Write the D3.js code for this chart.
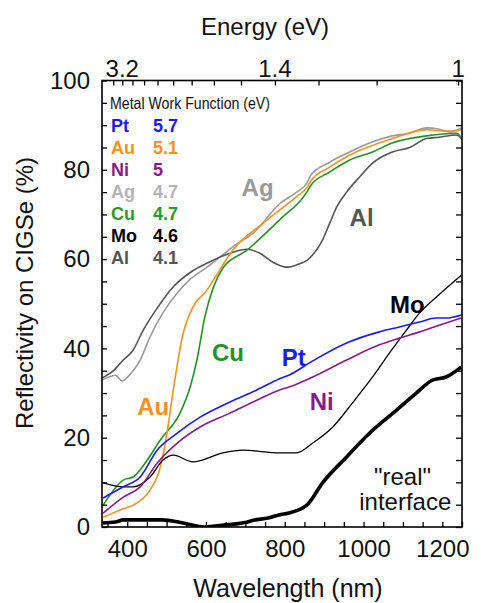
<!DOCTYPE html>
<html>
<head>
<meta charset="utf-8">
<script src="https://cdn.jsdelivr.net/npm/d3@7"></script>
<style>
  html, body { margin: 0; padding: 0; background: #fff; }
  svg { display: block; font-family: "Liberation Sans", Arial, Helvetica, sans-serif; }
</style>
</head>
<body>
<svg id="chart" width="484" height="603"></svg>
<script>
// Reflectivity spectra (wavelength in nm, reflectivity in %)
const pt = [[339,6.5],[390,9],[433,11.2],[476,17.2],[527,21],[585,24.6],[661,28],[729,30.7],[787,33.2],[813,34.1],[871,37.2],[957,41.2],[1040,43.7],[1091,44.8],[1142,45.9],[1185,46.8],[1210,46.8],[1248,47.5]];
const au = [[339,2.2],[382,3.8],[425,5.4],[458,8.3],[484,13.4],[501,21],[517,30.7],[542,43.4],[567,49.3],[602,53],[635,57.6],[668,62],[744,68],[830,74],[856,76],[866,77.5],[914,80.6],[965,83.3],[1073,87],[1160,89],[1192,88.7],[1235,88.7],[1250,89.1]];
const ni = [[339,3.1],[390,6.7],[433,9],[476,14.3],[527,18.8],[585,22.4],[661,25.5],[729,28.4],[787,30.7],[813,31.4],[871,33.6],[957,37.4],[1040,40.8],[1091,42.3],[1142,43.7],[1192,45.2],[1248,46.8]];
const ag = [[337,33],[350,33.5],[370,34],[387,32.7],[400,33.5],[415,35],[433,37.4],[458,42.6],[491,48],[527,52.4],[560,55.5],[603,58.2],[643,61],[680,63.5],[720,65.8],[787,72.4],[830,75],[856,77],[866,78.8],[914,81.7],[965,84],[1015,86],[1073,87.6],[1117,88.2],[1160,89.4],[1192,89.1],[1218,88.5],[1250,89.4]];
const cu = [[339,4.9],[390,10.5],[415,11.2],[451,15],[484,19.5],[534,25.5],[560,31.4],[577,37.4],[597,47],[618,53.5],[643,58],[704,62],[787,68.8],[856,75],[866,76.5],[914,79.5],[965,82.2],[1023,84],[1073,86],[1160,87.6],[1235,88.2],[1243,87.8],[1250,86.7]];
const mo = [[339,9.9],[390,9],[415,9],[458,11.2],[491,15],[517,16.1],[567,14.6],[643,16.6],[694,17.2],[787,16.6],[830,16.6],[871,18.8],[922,22.4],[972,27.8],[1023,33.6],[1066,39],[1109,44.1],[1142,47.9],[1185,51.5],[1248,56.4]];
const al = [[337,33.4],[365,35],[390,37.4],[415,39.6],[440,44],[476,49],[517,53.8],[560,57],[610,59.4],[661,61.3],[704,62.2],[737,61.3],[770,59.3],[805,58.2],[830,58.7],[863,60.2],[896,64.3],[914,68],[932,71.7],[957,75],[990,78.4],[1023,81.5],[1073,84],[1117,85],[1160,87],[1192,87.3],[1235,87.8],[1250,87]];
const realInterface = [[337,0.9],[370,1.1],[390,1.6],[446,1.6],[489,1.6],[542,0.9],[597,0],[641,0.4],[699,1.0],[720,1.5],[757,2.0],[790,2.8],[808,3.1],[856,4.9],[896,9.9],[957,15.7],[1015,21],[1084,26.2],[1134,30],[1175,32.9],[1210,33.6],[1248,35.8]];

// Legend: metal and its work function (eV)
const metals = ["Pt", "Au", "Ni", "Ag", "Cu", "Mo", "Al"];
const workFunctions = ["5.7", "5.1", "5", "4.7", "4.7", "4.6", "4.1"];

// Axis ticks
const wavelengthTicks = d3.range(350, 1251, 50);
const wavelengthLabels = [400, 600, 800, 1000, 1200];
const reflectivityTicks = d3.range(0, 101, 5);
const reflectivityLabels = [0, 20, 40, 60, 80, 100];
const energyTicks = [3.4, 3.2, 3.0, 2.8, 2.6, 2.4, 2.2, 2.0, 1.8, 1.6, 1.4, 1.2, 1.0];
const energyLabelText = ["3.2", "1.4", "1"];
const energyLabelAt = [3.2, 1.6, 1.0];

const colors = {
  Pt: "#1a1aff", Au: "#f7921e", Ni: "#8a1a8a", Ag: "#9a9a9a",
  Cu: "#259225", Mo: "#000000", Al: "#555555"
};
const legendColors = {
  Pt: "#1a1aff", Au: "#f7921e", Ni: "#8a1a8a", Ag: "#b4b4b4",
  Cu: "#2a9a2a", Mo: "#000000", Al: "#555555"
};

const svg = d3.select("#chart");
const L = 102, R = 462, T = 80.5, B = 527;

const x = d3.scaleLinear().domain([336, 1250]).range([L, R]);
const y = d3.scaleLinear().domain([0, 100]).range([B, T]);

svg.append("defs").append("clipPath").attr("id", "plot")
  .append("rect").attr("x", L).attr("y", T).attr("width", R - L).attr("height", B - T);

const line = d3.line().x(d => x(d[0])).y(d => y(d[1])).curve(d3.curveMonotoneX);

const plot = svg.append("g").attr("clip-path", "url(#plot)");
const series = [
  { data: ag, color: colors.Ag, w: 1.6 },
  { data: al, color: colors.Al, w: 1.6 },
  { data: cu, color: colors.Cu, w: 1.6 },
  { data: au, color: colors.Au, w: 1.6 },
  { data: mo, color: colors.Mo, w: 1.3 },
  { data: ni, color: colors.Ni, w: 1.6 },
  { data: pt, color: colors.Pt, w: 1.6 },
  { data: realInterface, color: "#000", w: 3.6 }
];
plot.selectAll("path.series").data(series).join("path")
  .attr("class", "series")
  .attr("d", d => line(d.data))
  .attr("fill", "none")
  .attr("stroke", d => d.color)
  .attr("stroke-width", d => d.w)
  .attr("stroke-linejoin", "round");

// Frame
svg.append("rect").attr("x", L).attr("y", T).attr("width", R - L).attr("height", B - T)
  .attr("fill", "none").attr("stroke", "#000").attr("stroke-width", 1.6);

const tickStyle = g => {
  g.select(".domain").remove();
  g.selectAll(".tick line").attr("stroke", "#000").attr("stroke-width", 1.3);
  g.selectAll(".tick text").attr("fill", "#111").attr("font-size", 24)
    .attr("font-family", "'Liberation Sans', Arial, sans-serif");
};

// Bottom axis (ticks point inward)
svg.append("g").attr("transform", `translate(0,${B})`)
  .call(d3.axisBottom(x).tickValues(wavelengthTicks).tickSizeInner(-5).tickSizeOuter(0)
    .tickPadding(13).tickFormat(d => wavelengthLabels.includes(d) ? d : ""))
  .call(tickStyle);

// Left axis
svg.append("g").attr("transform", `translate(${L},0)`)
  .call(d3.axisLeft(y).tickValues(reflectivityTicks).tickSizeInner(-5).tickSizeOuter(0)
    .tickPadding(12).tickFormat(d => reflectivityLabels.includes(d) ? d : ""))
  .call(tickStyle);

// Right axis (ticks only)
svg.append("g").attr("transform", `translate(${R},0)`)
  .call(d3.axisRight(y).tickValues(reflectivityTicks).tickSizeInner(-6).tickSizeOuter(0).tickFormat(""))
  .call(tickStyle);

// Top axis: photon energy
svg.append("g").attr("transform", `translate(0,${T})`)
  .call(d3.axisTop(x).tickValues(energyTicks.map(e => 1240 / e)).tickSizeInner(-5).tickSizeOuter(0).tickFormat(""))
  .call(tickStyle);
svg.append("g").selectAll("text").data(energyLabelText).join("text")
  .attr("x", (d, i) => x(1240 / energyLabelAt[i]))
  .attr("y", 77)
  .attr("text-anchor", "middle")
  .attr("font-size", 24).attr("fill", "#111")
  .text(d => d);

// Axis titles
svg.append("text").attr("x", 265).attr("y", 35).attr("text-anchor", "middle")
  .attr("font-size", 24).attr("fill", "#111").text("Energy (eV)");
svg.append("text").attr("x", 288).attr("y", 597).attr("text-anchor", "middle")
  .attr("font-size", 25).attr("fill", "#111").text("Wavelength (nm)");
svg.append("text").attr("transform", "translate(33,293) rotate(-90)").attr("text-anchor", "middle")
  .attr("font-size", 24).attr("fill", "#111").text("Reflectivity on CIGSe (%)");

// Legend
const legend = svg.append("g");
legend.append("text").attr("x", 110).attr("y", 109).attr("font-size", 16.5).attr("fill", "#111")
  .attr("textLength", 160).attr("lengthAdjust", "spacingAndGlyphs")
  .text("Metal Work Function (eV)");
const rows = legend.selectAll("g.row").data(metals).join("g").attr("class", "row")
  .attr("transform", (d, i) => `translate(0,${131.5 + i * 22})`)
  .attr("font-weight", "bold").attr("font-size", 18)
  .attr("fill", d => legendColors[d]);
rows.append("text").attr("x", 111).text(d => d);
rows.append("text").attr("x", 153).text((d, i) => workFunctions[i]);

// Curve annotations
const notes = [
  { t: "Ag", at: [731, 74.1], c: "#9a9a9a", b: true },
  { t: "Al", at: [995, 67.4], c: "#555555", b: true },
  { t: "Cu", at: [656, 37.2], c: colors.Cu, b: true },
  { t: "Au", at: [466, 25.1], c: colors.Au, b: true },
  { t: "Pt", at: [823, 36.1], c: colors.Pt, b: true },
  { t: "Ni", at: [894, 26.2], c: colors.Ni, b: true },
  { t: "Mo", at: [1111, 47.9], c: "#000", b: true },
  { t: "\"real\"", at: [1099, 9.4], c: "#111", b: false },
  { t: "interface", at: [1106, 3.8], c: "#111", b: false }
];
svg.append("g").selectAll("text").data(notes).join("text")
  .attr("x", d => x(d.at[0])).attr("y", d => y(d.at[1]))
  .attr("text-anchor", "middle")
  .attr("font-size", 24)
  .attr("font-weight", d => d.b ? "bold" : "normal")
  .attr("fill", d => d.c)
  .text(d => d.t);
</script>
</body>
</html>
